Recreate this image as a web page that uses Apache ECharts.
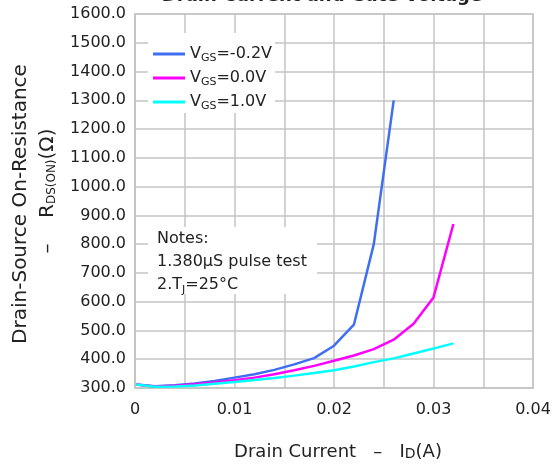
<!DOCTYPE html>
<html><head><meta charset="utf-8">
<script src="https://cdn.jsdelivr.net/npm/echarts@6/dist/echarts.min.js"></script>
<style>html,body{margin:0;padding:0;background:#fff}#c{width:554px;height:470px}</style>
</head><body><div id="c"></div>
<script>
// ---- data ----
const seriesNames = ['VGS=-0.2V', 'VGS=0.0V', 'VGS=1.0V'];
const xBlue = [0.0001, 0.002, 0.004, 0.006, 0.008, 0.010, 0.012, 0.014, 0.016, 0.018, 0.020, 0.022, 0.024, 0.026];
const yBlue = [312, 306, 310, 316, 324, 336, 348, 363, 382, 404, 447, 520, 800, 1300];
const xMagenta = [0.0001, 0.002, 0.004, 0.006, 0.008, 0.010, 0.012, 0.014, 0.016, 0.018, 0.020, 0.022, 0.024, 0.026, 0.028, 0.030, 0.032];
const yMagenta = [312, 305, 308, 313, 319, 327, 336, 348, 362, 377, 395, 413, 435, 468, 523, 615, 870];
const xCyan = [0.0001, 0.002, 0.004, 0.006, 0.008, 0.010, 0.012, 0.014, 0.016, 0.018, 0.020, 0.022, 0.024, 0.026, 0.028, 0.030, 0.032];
const yCyan = [312, 304, 305, 309, 315, 321, 328, 335, 343, 352, 362, 375, 390, 403, 420, 437, 455];
const yTickMin = 300, yTickMax = 1600, yTickStep = 100;
const xTickMin = 0, xTickMax = 0.04, xTickStep = 0.01;
const titleText = 'Drain Current and Gate Voltage';
const xTitle = 'Drain Current   –   I{s|D}(A)';
const yTitle1 = 'Drain-Source On-Resistance';
const yTitle2 = '–    R{s|DS(ON)}(Ω)';
const notesText = 'Notes:\n1.380µS pulse test\n2.T{s|J}=25°C';

// ---- chart ----
const FF = '"DejaVu Sans", sans-serif';
const TXT = '#222';
const GRIDC = '#c4c4c4';
const colors = ['#3f6ef2', '#ff00ff', '#00ffff'];
const pairs = (xs, ys) => xs.map((x, i) => [x, ys[i]]);
const chart = echarts.init(document.getElementById('c'), null, {renderer: 'canvas'});
const mkSeries = (name, xs, ys, c) => ({
  name, type: 'line', data: pairs(xs, ys), symbol: 'none', smooth: false,
  lineStyle: {color: c, width: 2.5}, itemStyle: {color: c}, z: 3
});
chart.setOption({
  animation: false,
  backgroundColor: '#fff',
  grid: {left: 135, right: 21, top: 14, bottom: 82, show: true, borderColor: GRIDC, borderWidth: 1.5, backgroundColor: 'transparent'},
  xAxis: {
    type: 'value', min: xTickMin, max: xTickMax, interval: xTickStep,
    axisLine: {show: true, lineStyle: {color: GRIDC, width: 1.5}},
    axisTick: {show: false},
    minorTick: {show: false, splitNumber: 2},
    minorSplitLine: {show: true, lineStyle: {color: GRIDC, width: 1.5}},
    splitLine: {show: true, lineStyle: {color: GRIDC, width: 1.5}},
    axisLabel: {margin: 14, fontSize: 16, fontFamily: FF, color: TXT,
      formatter: v => (Math.abs(v) < 1e-9 ? '0' : v.toFixed(2))}
  },
  yAxis: {
    type: 'value', min: yTickMin, max: yTickMax, interval: yTickStep,
    axisLine: {show: true, lineStyle: {color: GRIDC, width: 1.5}},
    axisTick: {show: false},
    splitLine: {show: true, lineStyle: {color: GRIDC, width: 1.5}},
    axisLabel: {margin: 9, fontSize: 16, fontFamily: FF, color: TXT, formatter: v => v.toFixed(1)}
  },
  legend: {
    orient: 'vertical', left: 148, top: 33,
    data: seriesNames,
    icon: 'rect', itemWidth: 32, itemHeight: 3, itemGap: 4,
    backgroundColor: '#fff', padding: [11, 3, 1, 5],
    formatter: n => 'V{s|GS}' + n.slice(3),
    textStyle: {fontSize: 16, fontFamily: FF, color: TXT, lineHeight: 20,
      rich: {s: {fontSize: 11, fontFamily: FF, color: TXT, lineHeight: 13, verticalAlign: 'bottom'}}}
  },
  graphic: [
    {type: 'text', x: 322, y: 5, z: 10, style: {text: titleText, fill: TXT, fontSize: 18, fontWeight: 'bold', fontFamily: FF, align: 'center', verticalAlign: 'bottom'}},
    {type: 'rect', z: 1, shape: {x: 148, y: 227, width: 169, height: 67}, style: {fill: '#fff'}},
    {type: 'text', z: 2, x: 157, y: 227, style: {text: notesText, fill: TXT, fontSize: 16, fontFamily: FF, lineHeight: 23,
      rich: {s: {fontSize: 11, fontFamily: FF, fill: TXT, lineHeight: 15, verticalAlign: 'bottom'}}}},
    {type: 'text', x: 21, y: 204, rotation: Math.PI / 2, style: {text: yTitle1, fill: TXT, fontSize: 20, fontFamily: FF, align: 'center', verticalAlign: 'middle'}},
    {type: 'text', x: 48, y: 191, rotation: Math.PI / 2, style: {text: yTitle2, fill: TXT, fontSize: 20, fontFamily: FF, align: 'center', verticalAlign: 'middle',
      rich: {s: {fontSize: 12, fontFamily: FF, fill: TXT, lineHeight: 14, verticalAlign: 'bottom'}}}},
    {type: 'text', x: 338, y: 452, style: {text: xTitle, fill: TXT, fontSize: 18, fontFamily: FF, align: 'center', verticalAlign: 'middle',
      rich: {s: {fontSize: 14, fontFamily: FF, fill: TXT, lineHeight: 15, verticalAlign: 'bottom'}}}}
  ],
  series: [
    mkSeries(seriesNames[0], xBlue, yBlue, colors[0]),
    mkSeries(seriesNames[1], xMagenta, yMagenta, colors[1]),
    mkSeries(seriesNames[2], xCyan, yCyan, colors[2])
  ]
});
</script>
</body></html>
